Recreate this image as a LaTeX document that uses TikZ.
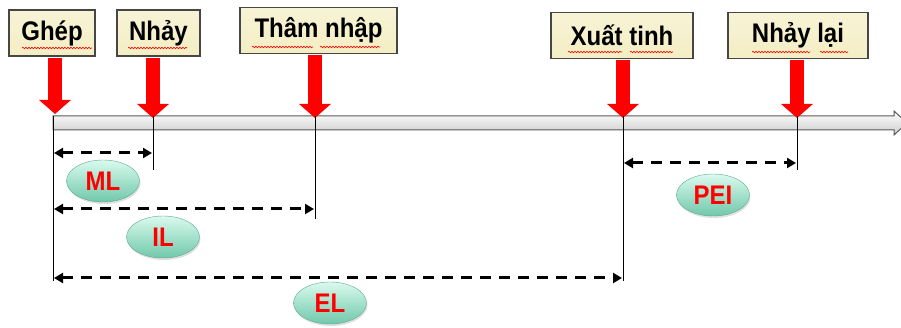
\documentclass[tikz,border=0pt]{standalone}
\usepackage{fontspec}
\setmainfont{Liberation Sans}
\usetikzlibrary{arrows.meta,shapes.geometric,shadows,decorations.pathmorphing}
\definecolor{boxfill}{RGB}{244,238,196}
\definecolor{boxline}{RGB}{70,70,70}
\definecolor{tealA}{RGB}{218,250,238}
\definecolor{tealB}{RGB}{112,200,170}
\definecolor{arrred}{RGB}{255,0,0}
\newcommand{\talltext}[1]{\scalebox{1}[1.12]{#1}}
\begin{document}
\begin{tikzpicture}[x=1pt,y=-1pt,
 evt/.style={draw=boxline, line width=1.6pt, top color=boxfill!70!white, bottom color=boxfill, minimum height=46pt, inner sep=0pt, font=\fontsize{24}{28}\selectfont\bfseries},
 lab/.style={ellipse, minimum width=73pt, minimum height=42pt, inner sep=0pt, top color=tealA, bottom color=tealB, draw=tealB!85!black, line width=0.4pt, drop shadow={opacity=0.25,shadow xshift=1pt,shadow yshift=-2pt}, text=red, font=\fontsize{24}{28}\selectfont\bfseries},
 redarrow/.style={arrred, line width=14pt, shorten <=0.8pt, -{Triangle[width=31pt,length=14pt]}},
 vline/.style={black, line width=1pt},
 span/.style={black, line width=3pt, dash pattern=on 11pt off 8pt, {Triangle[length=9pt,width=10pt]}-{Triangle[length=9pt,width=10pt]}},
 squig/.style={red, line width=0.6pt, decorate, decoration={snake, amplitude=0.8pt, segment length=3pt}}
]
\useasboundingbox (0,0) rectangle (901,328);

% event boxes
\node[evt, minimum width=86pt]  (ghep)    at (52,33)    {\talltext{Ghép}};
\node[evt, minimum width=83pt]  (nhay)    at (158.5,33) {\talltext{Nhảy}};
\node[evt, minimum width=157pt] (tham)    at (318.5,30.5) {\talltext{Thâm nhập}};
\node[evt, minimum width=142pt] (xuat)    at (622,35.5) {\talltext{Xuất tinh}};
\node[evt, minimum width=140pt] (nhaylai) at (798,35.5) {\talltext{Nhảy lại}};

% spell-check squiggles
\draw[squig] (22,48) -- (92,48);
\draw[squig] (128,48) -- (187,48);
\draw[squig] (252,47) -- (313,47);
\draw[squig] (320,47) -- (380,47);
\draw[squig] (568,52) -- (622,52);
\draw[squig] (630,52) -- (673,52);
\draw[squig] (752,52) -- (810,52);
\draw[squig] (820,52) -- (848,52);

% timeline bar
\path[draw=gray!70!black, line width=1pt, top color=white, bottom color=gray!40]
  (53,116) -- (894,116) -- (894,111) -- (907,123) -- (894,135) -- (894,130) -- (53,130) -- cycle;

% timeline points
\coordinate (tGhep) at (53,116);
\coordinate (tNhay) at (153,116);
\coordinate (tTham) at (315,116);
\coordinate (tXuat) at (623,116);
\coordinate (tNhayLai) at (797,116);
\coordinate (bGhep) at (53,281);
\coordinate (bNhay) at (153,170);
\coordinate (bTham) at (315,219);
\coordinate (bXuat) at (623,281);
\coordinate (bNhayLai) at (797,170);

% red arrows
\draw[redarrow] (ghep.south -| 55,0) -- (55,114);
\draw[redarrow] (nhay.south -| tNhay) -- ([yshift=-2pt]tNhay);
\draw[redarrow] (tham.south -| tTham) -- ([yshift=-2pt]tTham);
\draw[redarrow] (xuat.south -| tXuat) -- ([yshift=-2pt]tXuat);
\draw[redarrow] (nhaylai.south -| tNhayLai) -- ([yshift=-2pt]tNhayLai);

% vertical lines
\draw[vline] (tGhep) -- (bGhep);
\draw[vline] (tNhay) -- (bNhay);
\draw[vline] (tTham) -- (bTham);
\draw[vline] (tXuat) -- (bXuat);
\draw[vline] (tNhayLai) -- (bNhayLai);

% spans
\coordinate (mlA) at (54,153);  \coordinate (mlB) at (152,153);
\coordinate (ilA) at (54,209);  \coordinate (ilB) at (314,209);
\coordinate (elA) at (54,278);  \coordinate (elB) at (622,278);
\coordinate (peA) at (624,163); \coordinate (peB) at (796,163);
\draw[span] (mlA) -- (mlB);
\draw[span] (ilA) -- (ilB);
\draw[span] (elA) -- (elB);
\draw[span] (peA) -- (peB);

% labels
\node[lab] (ml)  at (103,181) {\talltext{ML}};
\node[lab] (il)  at (163,237) {\talltext{IL}};
\node[lab] (el)  at (330,303) {\talltext{EL}};
\node[lab] (pei) at (713,195) {\talltext{PEI}};
\end{tikzpicture}
\end{document}
